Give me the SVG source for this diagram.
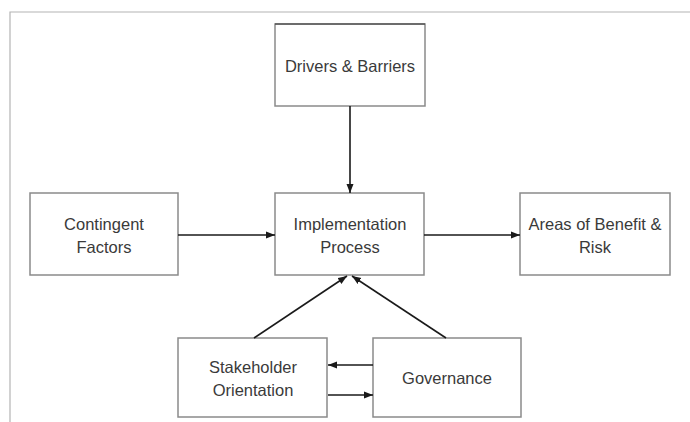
<svg xmlns="http://www.w3.org/2000/svg" width="690" height="422" viewBox="0 0 690 422">
  <style>
    .box { fill: #ffffff; stroke: #8a8a8a; stroke-width: 1.5; }
    .lbl { font-family: "Liberation Sans", Arial, sans-serif; font-size: 16.5px; fill: #3a3a3a; text-anchor: middle; }
    .edge { fill: none; stroke: #1a1a1a; stroke-width: 1.6; marker-end: url(#arrow); }
    .frame { fill: none; stroke: #b4b4b4; stroke-width: 1.2; }
  </style>
  <defs>
    <marker id="arrow" markerUnits="userSpaceOnUse" markerWidth="10" markerHeight="8" refX="9" refY="4" orient="auto">
      <path d="M0,0.5 L9,4 L0,7.5 Z" fill="#1a1a1a"/>
    </marker>
  </defs>

  <rect width="690" height="422" fill="#ffffff"/>
  <!-- page frame -->
  <path class="frame" d="M10,422 V12 H690"/>

  <g id="drivers">
    <rect class="box" x="275" y="24" width="150" height="82"/>
    <line x1="275" y1="24" x2="425" y2="24" stroke="#333" stroke-width="1.2"/>
    <text class="lbl" x="350" y="72">Drivers &amp; Barriers</text>
  </g>

  <g id="contingent">
    <rect class="box" x="30" y="193" width="148" height="82"/>
    <text class="lbl" x="104" y="230">Contingent</text>
    <text class="lbl" x="104" y="253">Factors</text>
  </g>

  <g id="implementation">
    <rect class="box" x="275" y="193" width="149" height="82"/>
    <text class="lbl" x="350" y="230">Implementation</text>
    <text class="lbl" x="350" y="253">Process</text>
  </g>

  <g id="areas">
    <rect class="box" x="520" y="193" width="150" height="82"/>
    <text class="lbl" x="595" y="230">Areas of Benefit &amp;</text>
    <text class="lbl" x="595" y="253">Risk</text>
  </g>

  <g id="stakeholder">
    <rect class="box" x="178" y="338" width="149" height="79"/>
    <text class="lbl" x="253" y="373">Stakeholder</text>
    <text class="lbl" x="253" y="396">Orientation</text>
  </g>

  <g id="governance">
    <rect class="box" x="373" y="338" width="148" height="79"/>
    <text class="lbl" x="447" y="384">Governance</text>
  </g>

  <g id="connectors">
    <path class="edge" d="M350,106 V193"/>
    <path class="edge" d="M178,235 H275"/>
    <path class="edge" d="M424,235 H520"/>
    <path class="edge" d="M254,338 L347,276"/>
    <path class="edge" d="M446,338 L352,276"/>
    <path class="edge" d="M373,365 H328"/>
    <path class="edge" d="M328,395 H373"/>
  </g>
</svg>
